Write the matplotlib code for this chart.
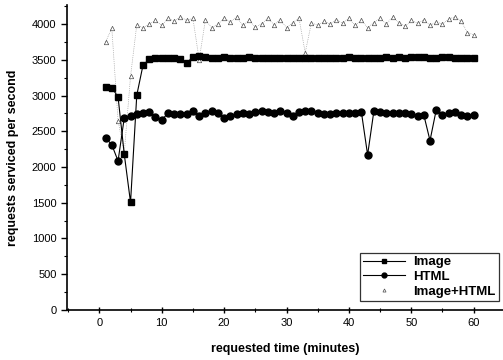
import matplotlib.pyplot as plt
from matplotlib.ticker import MultipleLocator

plt.rcParams["font.family"] = ["Liberation Sans", "DejaVu Sans"]

minutes = list(range(1, 61))

image_rps = [3120, 3110, 2980, 2175, 1505, 3005, 3425, 3505, 3520, 3525,
             3525, 3520, 3515, 3450, 3545, 3550, 3540, 3530, 3530, 3535,
             3530, 3525, 3530, 3535, 3525, 3520, 3530, 3530, 3525, 3520,
             3525, 3530, 3520, 3525, 3530, 3530, 3520, 3525, 3530, 3535,
             3525, 3520, 3530, 3525, 3530, 3535, 3525, 3540, 3530, 3535,
             3545, 3535, 3530, 3525, 3540, 3535, 3530, 3525, 3530, 3530]

html_rps = [2410, 2310, 2085, 2690, 2720, 2740, 2760, 2770, 2700, 2660,
            2750, 2740, 2740, 2745, 2790, 2720, 2760, 2790, 2760, 2680,
            2720, 2740, 2750, 2740, 2770, 2790, 2770, 2760, 2790, 2760,
            2720, 2770, 2790, 2780, 2760, 2740, 2740, 2750, 2750, 2760,
            2760, 2770, 2170, 2780, 2770, 2760, 2750, 2760, 2750, 2740,
            2720, 2730, 2370, 2800, 2730, 2750, 2770, 2730, 2720, 2730]

both_rps = [3750, 3940, 2650, 2200, 3270, 3990, 3950, 4000, 4050, 3980,
            4080, 4040, 4100, 4050, 4080, 3500, 4060, 3950, 4000, 4080,
            4030, 4100, 3980, 4050, 3960, 4000, 4080, 3990, 4060, 3950,
            4020, 4080, 3600, 4020, 3980, 4040, 4000, 4060, 4010, 4080,
            3980, 4050, 3950, 4020, 4080, 4000, 4100, 4020, 3970, 4050,
            4010, 4060, 3980, 4030, 4000, 4070, 4100, 4040, 3880, 3850]

fig = plt.figure(figsize=(5.03, 3.6), dpi=100)
ax = fig.add_axes([0.133, 0.139, 0.867, 0.847])

ax.plot(minutes, both_rps, color="0.55", lw=0.5, ls=":", zorder=1)
ax.plot(minutes, both_rps, ls="none", marker="^", ms=3.2, mfc="white",
        mec="0.3", mew=0.5, label="Image+HTML", zorder=2)
ax.plot(minutes, html_rps, color="black", lw=0.8, marker="o", ms=5,
        mfc="black", mec="black", label="HTML", zorder=3)
ax.plot(minutes, image_rps, color="black", lw=0.8, marker="s", ms=5,
        mfc="black", mec="black", label="Image", zorder=4)

ax.set_xlim(-5.2, 64.7)
ax.set_ylim(0, 4266)
ax.xaxis.set_major_locator(MultipleLocator(10))
ax.xaxis.set_minor_locator(MultipleLocator(5))
ax.yaxis.set_major_locator(MultipleLocator(500))
ax.yaxis.set_minor_locator(MultipleLocator(250))
ax.tick_params(which="major", length=4, width=1, labelsize=8)
ax.tick_params(which="minor", length=2.5, width=0.8)
ax.tick_params(axis="x", which="both", direction="inout")

for side in ["top", "right"]:
    ax.spines[side].set_visible(False)
for side in ["left", "bottom"]:
    ax.spines[side].set_linewidth(1.2)

ax.set_xlabel("requested time (minutes)", fontsize=9, fontweight="bold",
              labelpad=11)
ax.set_ylabel("requests serviced per second", fontsize=9,
              fontweight="bold", labelpad=9)

handles, labels = ax.get_legend_handles_labels()
order = [2, 1, 0]
leg = ax.legend([handles[i] for i in order], [labels[i] for i in order],
                loc="lower right", bbox_to_anchor=(0.997, 0.02),
                prop={"weight": "bold", "size": 9.5}, frameon=True,
                fancybox=False, edgecolor="black", handlelength=3.2,
                markerscale=0.7, borderpad=0.25, labelspacing=0.2,
                handletextpad=0.6, borderaxespad=0.2)
leg.get_frame().set_linewidth(0.9)

fig.savefig("out.png", dpi=100)
